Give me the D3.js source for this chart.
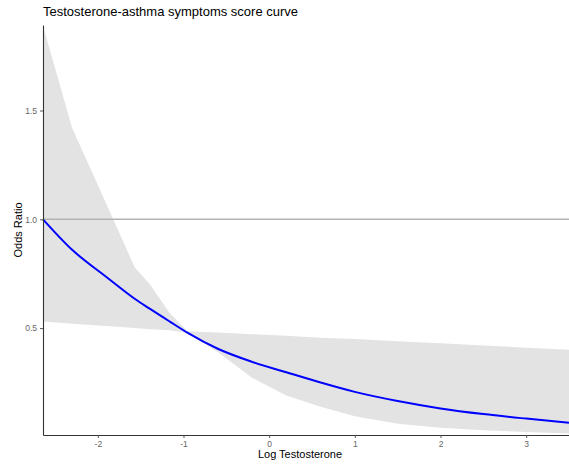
<!DOCTYPE html>
<html>
<head>
<meta charset="utf-8">
<script src="https://cdn.jsdelivr.net/npm/d3@7"></script>
<style>
  body { margin: 0; background: #fff; }
  svg { display: block; font-family: "Liberation Sans", Arial, sans-serif; }
</style>
</head>
<body>
<script>
var width = 569;
var height = 467;

// data
var logT = [-2.64, -2.3, -1.9, -1.57, -1.39, -1.16, -0.95, -0.6, -0.2, 0.2, 0.6, 1.0, 1.5, 2.0, 2.5, 3.0, 3.5];
var oddsRatio = [1.00, 0.86, 0.735, 0.635, 0.588, 0.53, 0.478, 0.405, 0.345, 0.297, 0.25, 0.207, 0.165, 0.131, 0.105, 0.084, 0.065];
var upperCI = [1.89, 1.42, 1.07, 0.78, 0.70, 0.568, 0.486, 0.48, 0.472, 0.465, 0.456, 0.45, 0.44, 0.43, 0.42, 0.41, 0.40];
var lowerCI = [0.53, 0.52, 0.51, 0.50, 0.495, 0.49, 0.478, 0.39, 0.272, 0.19, 0.138, 0.095, 0.06, 0.042, 0.031, 0.022, 0.016];
var xTicks = [-2, -1, 0, 1, 2, 3];
var yTicks = [0.5, 1.0, 1.5];

var plotLeft = 43, plotRight = 569, plotTop = 25, plotBottom = 435;

var svg = d3.select('body')
  .append('svg')
  .attr('width', width)
  .attr('height', height);

var xScale = d3.scaleLinear()
  .domain([-2.64, 3.5])
  .range([plotLeft, plotRight]);

var yScale = d3.scaleLinear()
  .domain([0.0087, 1.893])
  .range([plotBottom, plotTop]);

var rows = logT.map(function(x, i) {
  return { x: x, or: oddsRatio[i], lo: lowerCI[i], hi: upperCI[i] };
});

// confidence band
svg.append('path')
  .datum(rows)
  .attr('fill', '#e3e3e3')
  .attr('d', d3.area()
    .x(function(d) { return xScale(d.x); })
    .y0(function(d) { return yScale(d.lo); })
    .y1(function(d) { return yScale(d.hi); }));

// reference line at OR = 1
svg.append('line')
  .attr('x1', plotLeft)
  .attr('x2', plotRight)
  .attr('y1', yScale(1))
  .attr('y2', yScale(1))
  .attr('stroke', '#b3b3b3')
  .attr('stroke-width', 1.5);

svg.append('path')
  .datum(rows)
  .attr('fill', 'none')
  .attr('stroke', '#0000ff')
  .attr('stroke-width', 2)
  .attr('d', d3.line()
    .curve(d3.curveMonotoneX)
    .x(function(d) { return xScale(d.x); })
    .y(function(d) { return yScale(d.or); }));

var xAxis = d3.axisBottom(xScale)
  .tickValues(xTicks)
  .tickFormat(function(d) { return String(d); })
  .tickSize(3)
  .tickPadding(3)
  .tickSizeOuter(0);

var yAxis = d3.axisLeft(yScale)
  .tickValues(yTicks)
  .tickFormat(d3.format('.1f'))
  .tickSize(3)
  .tickPadding(3)
  .tickSizeOuter(0);

var gx = svg.append('g')
  .attr('transform', 'translate(0,' + plotBottom + ')')
  .call(xAxis);

var gy = svg.append('g')
  .attr('transform', 'translate(' + plotLeft + ',0)')
  .call(yAxis);

[gx, gy].forEach(function(g) {
  g.select('.domain').attr('stroke', '#333').attr('stroke-width', 1.1);
  g.selectAll('.tick line').attr('stroke', '#555');
  g.selectAll('.tick text')
    .attr('fill', '#666')
    .attr('font-size', '8.5px')
    .attr('font-family', '"Liberation Sans", Arial, sans-serif');
});

svg.append('text')
  .attr('x', plotLeft)
  .attr('y', 16)
  .attr('font-size', '13px')
  .attr('fill', '#000')
  .text('Testosterone-asthma symptoms score curve');

svg.append('text')
  .attr('x', 300)
  .attr('y', 458)
  .attr('text-anchor', 'middle')
  .attr('font-size', '11px')
  .attr('fill', '#000')
  .text('Log Testosterone');

svg.append('text')
  .attr('transform', 'translate(22,' + ((plotTop + plotBottom) / 2) + ') rotate(-90)')
  .attr('text-anchor', 'middle')
  .attr('font-size', '11px')
  .attr('fill', '#000')
  .text('Odds Ratio');
</script>
</body>
</html>
